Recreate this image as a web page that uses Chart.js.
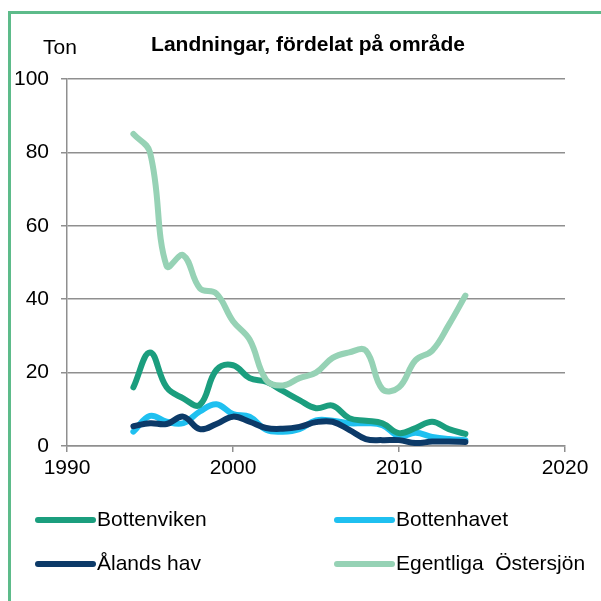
<!DOCTYPE html>
<html>
<head>
<meta charset="utf-8">
<script src="https://cdn.jsdelivr.net/npm/chart.js@4/dist/chart.umd.min.js"></script>
<style>
  body { margin: 0; background: #fff; overflow: hidden; }
  #wrap { position: relative; width: 601px; height: 601px; }
  #frame {
    position: absolute; left: 8px; top: 11px; width: 700px; height: 700px;
    border: 3px solid #5dbb8a;
  }
  canvas { position: absolute; left: 0; top: 0; }
</style>
</head>
<body>
<div id="wrap">
  <div id="frame"></div>
  <canvas id="chart" width="601" height="601"></canvas>
</div>
<script>
// Years and landings (ton) per area
const years = [1994, 1995, 1996, 1997, 1998, 1999, 2000, 2001, 2002, 2003, 2004,
               2005, 2006, 2007, 2008, 2009, 2010, 2011, 2012, 2013, 2014];

const bottenviken = [16, 25.5, 16, 13, 11.2, 20.7, 22, 18.5, 17.5, 15, 12.5,
                     10.3, 11, 7.6, 6.9, 6.2, 3.5, 4.9, 6.6, 4.6, 3.3];
const bottenhavet = [3.9, 8.2, 6.6, 6.2, 9.4, 11.4, 8.7, 8, 4.4, 3.9, 4.6,
                     7, 6.9, 6.2, 6.2, 5.7, 2.7, 3.6, 2.5, 1.9, 1.6];
const alandsHav   = [5.4, 6.2, 6, 8, 4.6, 6, 8, 6.6, 4.9, 4.7, 5.2,
                     6.5, 6.6, 4.4, 1.9, 1.6, 1.6, 0.8, 1.2, 1.2, 1.1];
const egentliga   = [85, 80, 49, 52, 43, 41.5, 34, 29, 18, 16.5, 18.5,
                     20, 24, 25.5, 26, 15.5, 16, 23.4, 26, 33, 41];

const seriesNames = ['Bottenviken', 'Bottenhavet', 'Ålands hav', 'Egentliga  Östersjön'];
const xTicks = [1990, 2000, 2010, 2020];
const yTicks = [0, 20, 40, 60, 80, 100];

const titleText = 'Landningar, fördelat på område';
const unitText = 'Ton';

const FONT = '"Liberation Sans", Arial, sans-serif';

function toPoints(values) {
    return values.map((v, i) => ({ x: years[i], y: v }));
}

// Title, unit label and the 2x2 legend
const decor = {
    id: 'decor',
    afterDraw(chart) {
        const ctx = chart.ctx;
        ctx.save();
        ctx.fillStyle = '#000';
        ctx.textBaseline = 'middle';

        ctx.font = 'bold 21px ' + FONT;
        ctx.textAlign = 'center';
        ctx.fillText(titleText, 308, 45);

        ctx.font = '21px ' + FONT;
        ctx.fillText(unitText, 60, 48);

        // legend: fixed 2x2 grid
        const slots = [
            { x: 38, y: 520 }, { x: 337, y: 520 },
            { x: 38, y: 564 }, { x: 337, y: 564 }
        ];
        ctx.textAlign = 'left';
        chart.data.datasets.forEach((ds) => {
            const s = slots[ds.legendSlot];
            ctx.strokeStyle = ds.borderColor;
            ctx.lineWidth = 6;
            ctx.lineCap = 'round';
            ctx.beginPath();
            ctx.moveTo(s.x, s.y);
            ctx.lineTo(s.x + 55, s.y);
            ctx.stroke();
            ctx.fillText(ds.label, s.x + 59, s.y);
        });
        ctx.restore();
    }
};

const gray = '#8f8f8f';

new Chart(document.getElementById('chart'), {
    type: 'line',
    data: {
        datasets: [
            { label: seriesNames[3], data: toPoints(egentliga), borderColor: '#96d2b5', order: 0, legendSlot: 3 },
            { label: seriesNames[2], data: toPoints(alandsHav), borderColor: '#0c3a68', order: 1, legendSlot: 2 },
            { label: seriesNames[0], data: toPoints(bottenviken), borderColor: '#1b9e7e', order: 2, legendSlot: 0 },
            { label: seriesNames[1], data: toPoints(bottenhavet), borderColor: '#1fc0f0', order: 3, legendSlot: 1 }
        ].map(ds => Object.assign(ds, {
            borderWidth: 6,
            pointRadius: 0,
            tension: 0.4,
            fill: false,
            borderCapStyle: 'round',
            borderJoinStyle: 'round'
        }))
    },
    options: {
        responsive: false,
        animation: false,
        layout: { padding: { left: 0, top: 79, right: 36, bottom: 0 } },
        plugins: {
            legend: { display: false },
            title: { display: false },
            tooltip: { enabled: false }
        },
        scales: {
            x: {
                type: 'linear',
                min: xTicks[0],
                max: xTicks[xTicks.length - 1],
                afterBuildTicks(scale) { scale.ticks = xTicks.map(v => ({ value: v })); },
                afterFit(scale) { scale.height = 155; },
                grid: { drawOnChartArea: false, drawTicks: true, tickLength: 6, color: gray, lineWidth: 1.5 },
                border: { color: gray, width: 1.5 },
                ticks: {
                    color: '#000', font: { family: FONT, size: 21 }, padding: 4, maxRotation: 0,
                    callback: (v) => String(v)
                }
            },
            y: {
                min: yTicks[0],
                max: yTicks[yTicks.length - 1],
                afterBuildTicks(scale) { scale.ticks = yTicks.map(v => ({ value: v })); },
                afterFit(scale) { scale.width = 67; },
                grid: { color: gray, lineWidth: 1.5, drawTicks: true, tickLength: 6 },
                border: { color: gray, width: 1.5 },
                ticks: { color: '#000', font: { family: FONT, size: 21 }, padding: 12 }
            }
        }
    },
    plugins: [decor]
});
</script>
</body>
</html>
